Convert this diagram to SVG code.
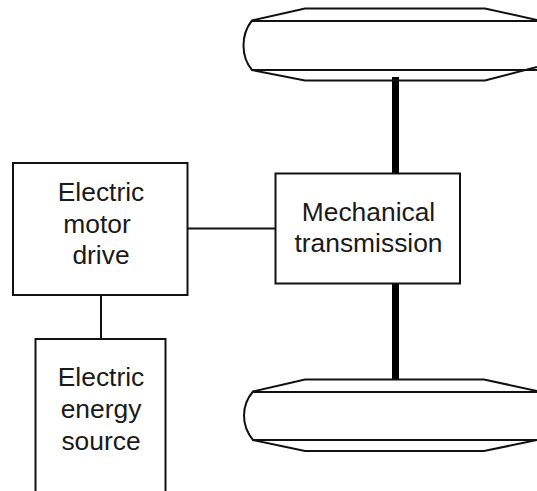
<svg xmlns="http://www.w3.org/2000/svg" width="537" height="491" viewBox="0 0 537 491">
<style>
.box{fill:#fff;stroke:#111;stroke-width:2}
.thin{fill:none;stroke:#111;stroke-width:2}
.axle{fill:none;stroke:#000;stroke-width:7}
text{font-family:"Liberation Sans",Arial,sans-serif;font-size:26.4px;fill:#1a1a1a}
</style>
<rect width="537" height="491" fill="#fff"/>
<g id="connectors">
<path class="thin" d="M187 228.500H276"/>
<path class="thin" d="M101 295V339"/>
<path class="axle" d="M395.500 77V174"/>
<path class="axle" d="M395.500 283V380"/>
</g>
<g id="wheel-top">
<path class="thin" d="M537 20L485 8.500H305L252 20.500Q243.500 31 243.500 45.500Q243.500 60 252 70L305 80.500H485L537 67"/>
<path class="thin" d="M252 21H537M252 70H537"/>
</g>
<g id="wheel-bottom">
<path class="thin" d="M537 391L484 379.500H305L253 391.500Q244 402 244 415.500Q244 429 253 440L305 451H484L537 440"/>
<path class="thin" d="M253 392H537M253 440H537"/>
</g>
<g id="motor-drive">
<rect class="box" x="13" y="163" width="174.500" height="132"/>
<text x="101" y="201" text-anchor="middle">Electric</text>
<text x="97" y="233" text-anchor="middle">motor</text>
<text x="101" y="264" text-anchor="middle">drive</text>
</g>
<g id="energy-source">
<path class="box" d="M35.500 491V339H165.500V491"/>
<text x="101" y="386" text-anchor="middle">Electric</text>
<text x="101" y="418" text-anchor="middle">energy</text>
<text x="101" y="450" text-anchor="middle">source</text>
</g>
<g id="transmission">
<rect class="box" x="275.500" y="173.500" width="184.500" height="110"/>
<text x="368.500" y="221" text-anchor="middle">Mechanical</text>
<text x="368.500" y="252" text-anchor="middle">transmission</text>
</g>
</svg>
